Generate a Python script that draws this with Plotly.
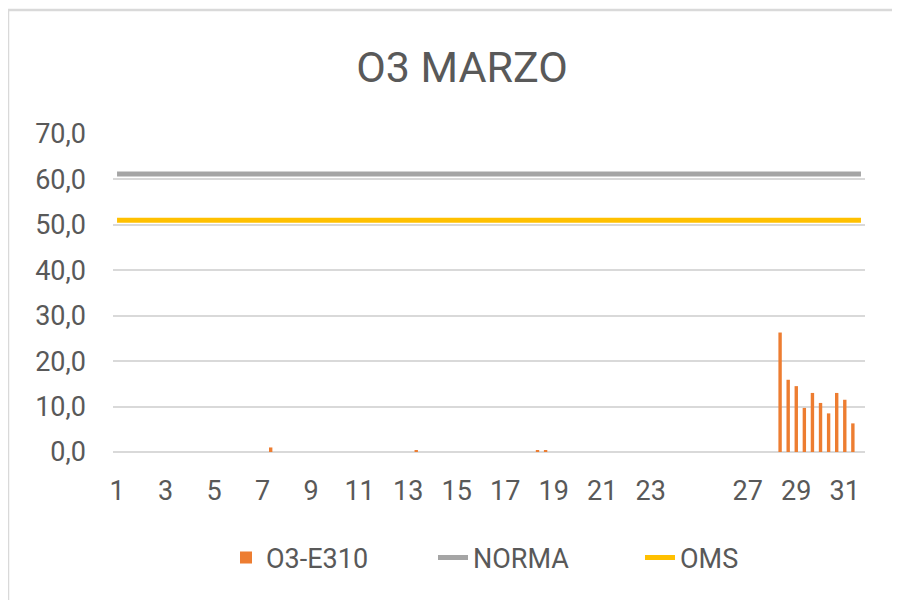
import plotly.graph_objects as go

# ---- data (three 8-hour blocks per day, March days 1..31) ----
days = list(range(1, 32))
blocks_per_day = 3
o3_e310 = [
    None, None, None,   # 1
    None, None, None,   # 2
    None, None, None,   # 3
    None, None, None,   # 4
    None, None, None,   # 5
    None, None, None,   # 6
    None, 1.0, None,    # 7
    None, None, None,   # 8
    None, None, None,   # 9
    None, None, None,   # 10
    None, None, None,   # 11
    None, None, None,   # 12
    None, 0.4, None,    # 13
    None, None, None,   # 14
    None, None, None,   # 15
    None, None, None,   # 16
    None, None, None,   # 17
    None, 0.4, 0.4,     # 18
    None, None, None,   # 19
    None, None, None,   # 20
    None, None, None,   # 21
    None, None, None,   # 22
    None, None, None,   # 23
    None, None, None,   # 24
    None, None, None,   # 25
    None, None, None,   # 26
    None, None, None,   # 27
    None, 26.3, 15.9,   # 28
    14.5, 9.7, 13.0,    # 29
    10.8, 8.5, 13.0,    # 30
    11.5, 6.3, None,    # 31
]
norma_value = 61.2
oms_value = 51.0
tick_days = [1, 3, 5, 7, 9, 11, 13, 15, 17, 19, 21, 23, 27, 29, 31]
tick_labels = [str(d) for d in tick_days]

n = len(days) * blocks_per_day
x = list(range(1, n + 1))
norma = [norma_value] * n
oms = [oms_value] * n
tickvals = [(d - 1) * blocks_per_day + 1 for d in tick_days]

FONT = "Roboto"
GREY = "#595959"
OFF = 8  # page body margin offset

W, H = 900, 600
# desired plot area on screen: left 113, right 865, top 134, bottom 452
L, R, T, B = 113 - OFF, 865 - OFF, 134 - OFF, 452 - OFF
pw, ph = R - L, B - T


def px2paper_x(px):
    return (px - OFF - L) / pw


def px2paper_y(py):
    return (B - (py - OFF)) / ph


def cx(px):
    return (px - OFF) / W


def cy(py):
    return 1 - (py - OFF) / H


fig = go.Figure()
fig.add_trace(go.Bar(x=x, y=o3_e310, name="O3-E310", marker_color="#ED7D31",
                     width=0.42, marker_line_width=0))
fig.add_trace(go.Scatter(x=x, y=norma, name="NORMA", mode="lines",
                         line=dict(color="#A5A5A5", width=5)))
fig.add_trace(go.Scatter(x=x, y=oms, name="OMS", mode="lines",
                         line=dict(color="#FFC000", width=5)))

fig.update_layout(
    width=W, height=H,
    margin=dict(l=L, r=W - R, t=T, b=H - B, autoexpand=False),
    paper_bgcolor="white", plot_bgcolor="white",
    font=dict(family=FONT, color=GREY, size=27),
    title=dict(text="O3 MARZO", x=cx(462), xref="container", xanchor="center",
               y=cy(67), yref="container", yanchor="middle",
               font=dict(family=FONT, size=43, color=GREY)),
    showlegend=True,
    legend=dict(orientation="h", xref="container", yref="container",
                x=cx(226), xanchor="left", y=cy(558), yanchor="middle",
                font=dict(family=FONT, size=27, color=GREY),
                entrywidth=162, entrywidthmode="pixels",
                traceorder="normal"),
    bargap=0.5,
    xaxis=dict(range=[0.5, n + 0.5], tickmode="array", tickvals=tickvals,
               ticktext=tick_labels, showgrid=False, zeroline=False,
               showline=False, ticks="", ticklabelstandoff=20,
               tickfont=dict(size=27, color=GREY, family=FONT)),
    yaxis=dict(range=[0, 70], dtick=10, tickformat=".1f",
               showgrid=True, gridcolor="#D9D9D9",
               gridwidth=1.5, zeroline=True, zerolinecolor="#D9D9D9",
               zerolinewidth=1.5, showline=False, ticks="",
               ticklabelstandoff=26,
               tickfont=dict(size=27, color=GREY, family=FONT)),
    separators=",.",
    shapes=[dict(type="rect", xref="paper", yref="paper",
                 x0=px2paper_x(8), x1=px2paper_x(906),
                 y0=px2paper_y(610), y1=px2paper_y(10),
                 line=dict(color="#D9D9D9", width=2.5), layer="below")],
)

fig.write_html("out.html")
